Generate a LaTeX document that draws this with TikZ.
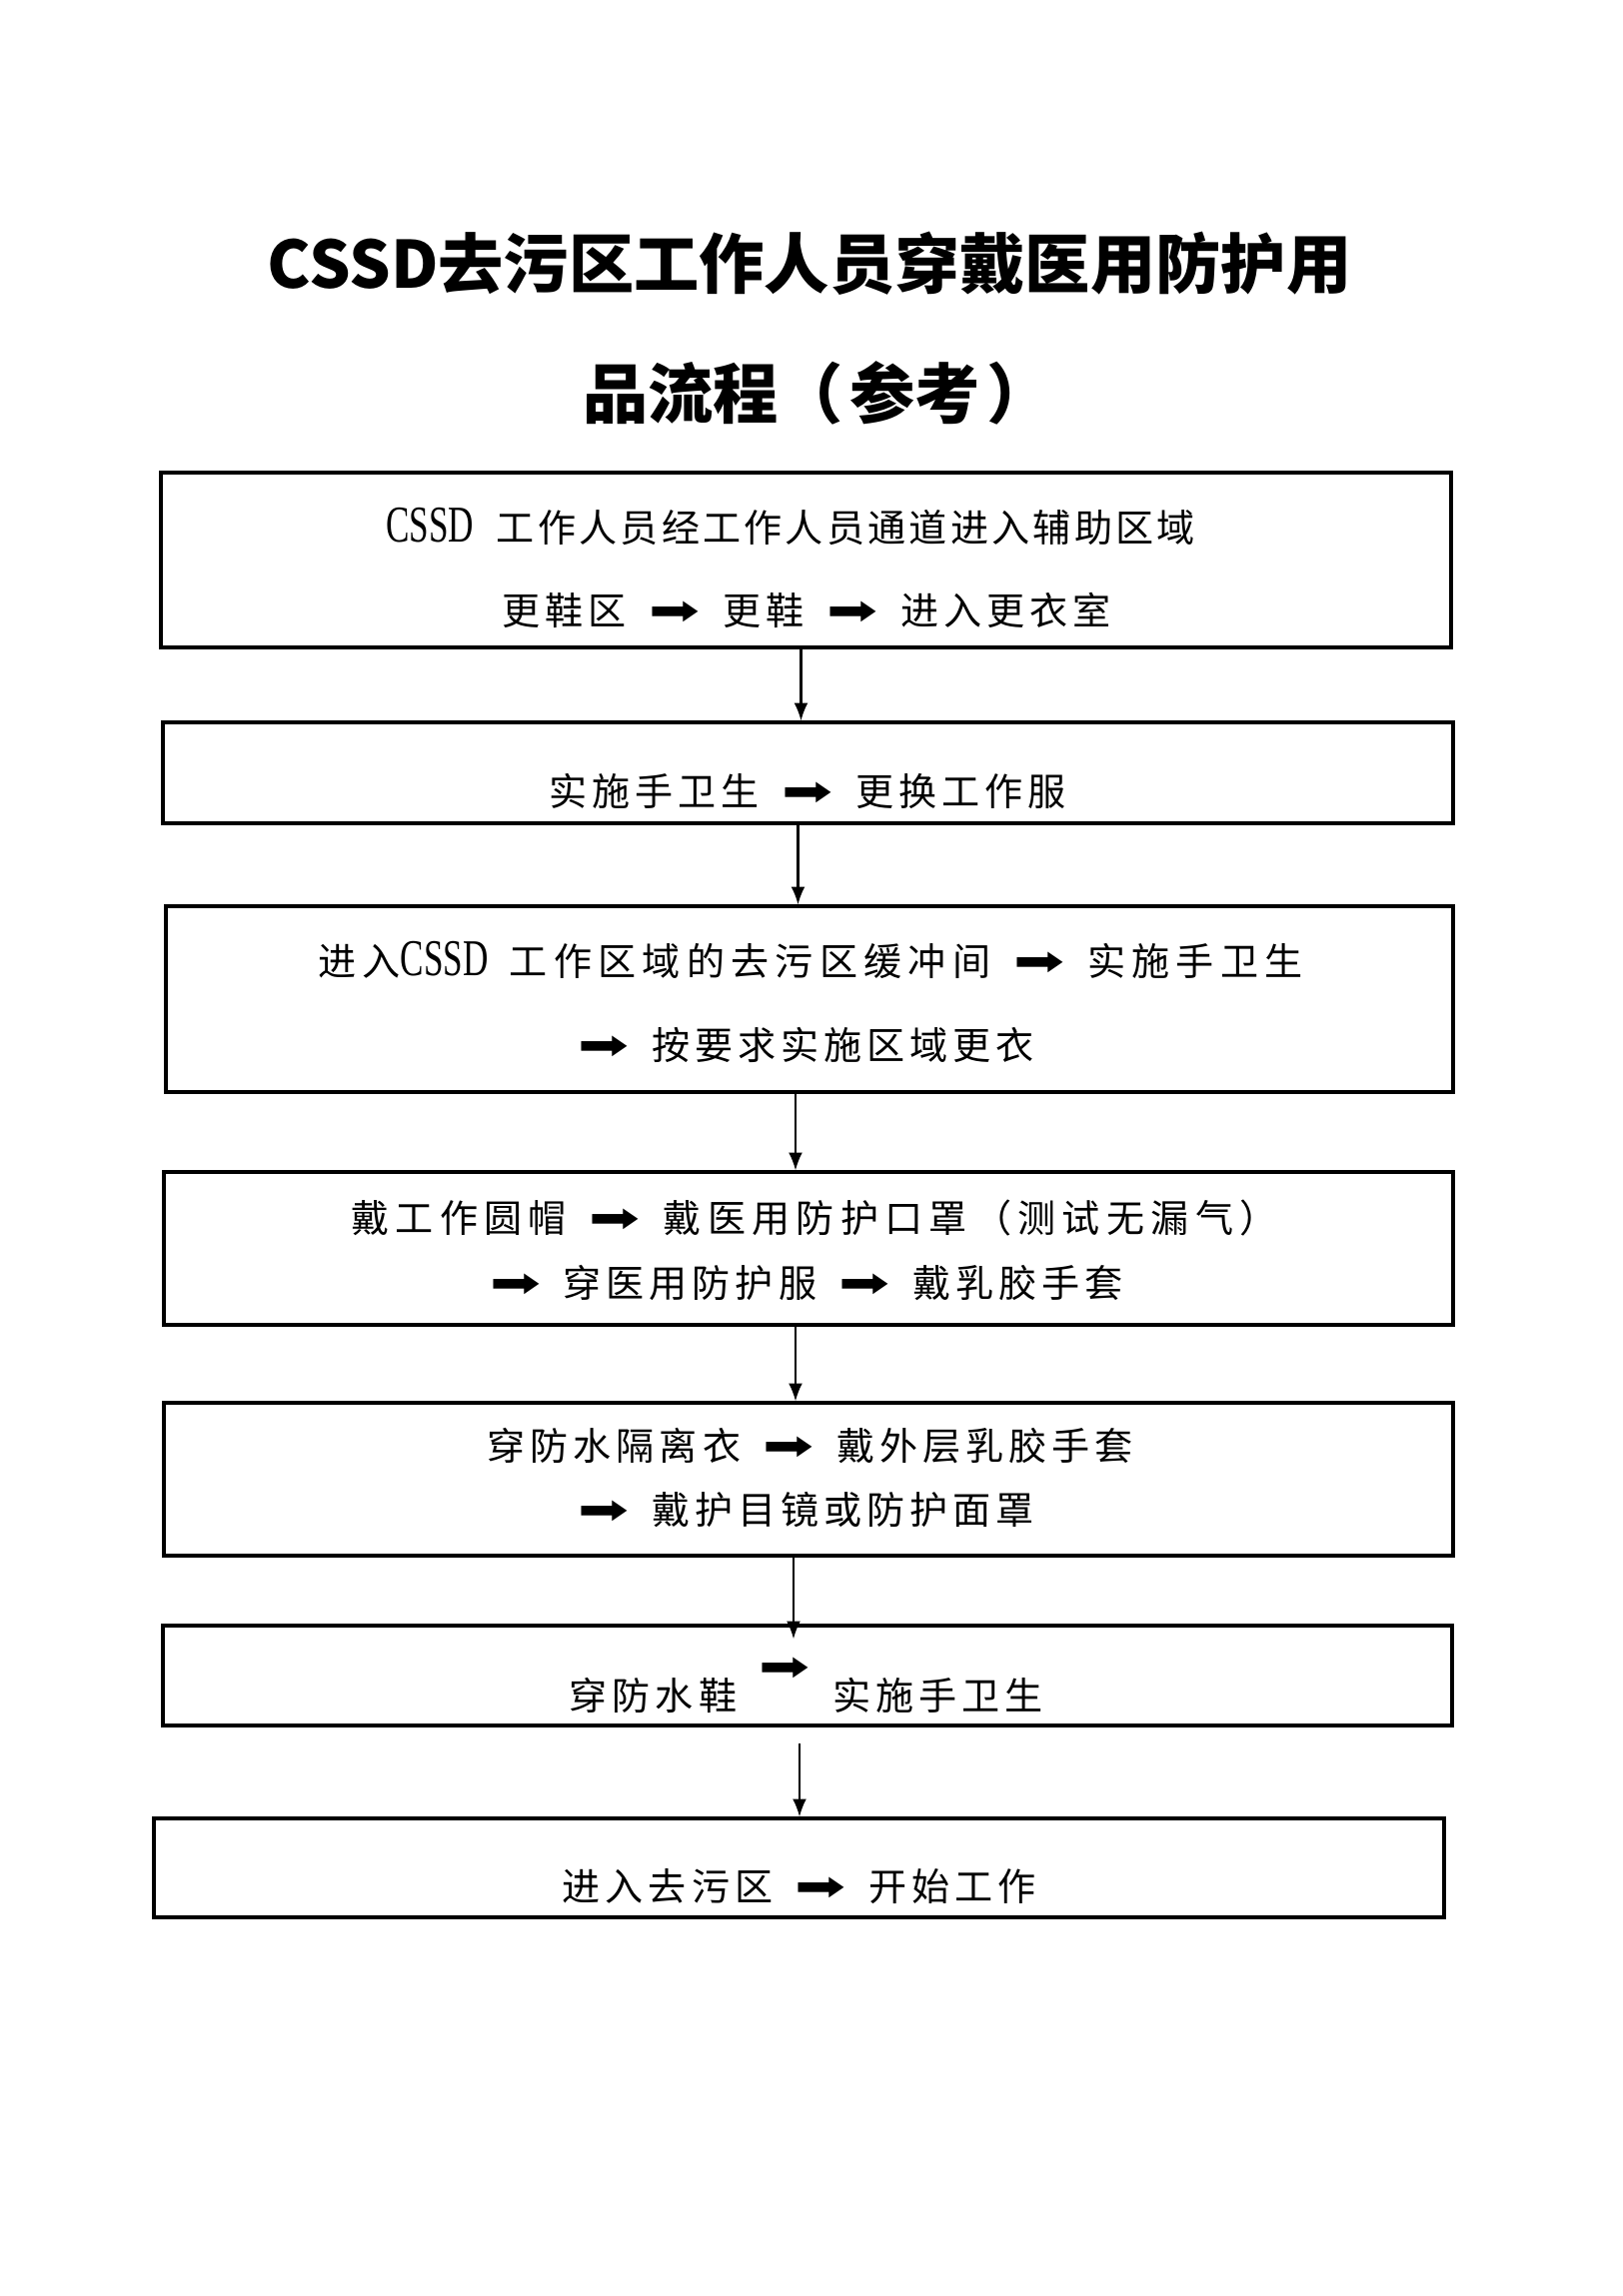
\documentclass[tikz,border=0pt]{standalone}
\usepackage{fontspec}
\usepackage{graphicx}
\usetikzlibrary{arrows.meta}

\setmainfont{Liberation Serif}
\newfontfamily\cjkfont[LetterSpace=13]{Noto Sans CJK SC}
\newfontfamily\cjktight[LetterSpace=8.5]{Noto Sans CJK SC}
\newfontfamily\cjkloose[LetterSpace=16.5]{Noto Sans CJK SC}
\newfontfamily\titlefont{Noto Sans CJK SC}
\newfontfamily\latinfont[FakeStretch=0.68]{Liberation Serif}
\newfontfamily\symfont{DejaVu Sans}

% one pixel of the page
\newcommand*{\pxu}{0.012931cm}
\newcommand*{\arr}{{\symfont\scalebox{1.6}[1.1]{➡}}}
\newcommand*{\gap}{\hspace{0.6em}}
\newcommand*{\cssd}{{\latinfont\fontsize{19pt}{19pt}\selectfont CSSD}}

\begin{document}
\begin{tikzpicture}
[
	x=\pxu,
	y=-\pxu,
	box/.style={draw,line width=1.2pt,inner sep=0pt},
	txt/.style={font=\fontsize{14pt}{16pt}\selectfont\cjkfont,inner sep=0pt},
	headline/.style={font=\fontsize{24pt}{28pt}\selectfont\titlefont\bfseries,inner sep=0pt},
	flow/.style={-{Latex[length=2.3mm,width=1.8mm]},line width=0.75pt}
]

	\useasboundingbox (0,0) rectangle (1624,2298);

	% title
	\node[headline] (ti1) at (810,264) {CSSD去污区工作人员穿戴医用防护用};
	\node[headline] (ti2) at (818,393) {品流程（\hspace{0.1em}参考\hspace{0.1em}）};

	% boxes
	\node[box,minimum width=1291*\pxu,minimum height=175*\pxu] (b1) at (806.5,560.5) {};
	\node[box,minimum width=1291*\pxu,minimum height=101*\pxu] (b2) at (808.5,773.5) {};
	\node[box,minimum width=1288*\pxu,minimum height=186*\pxu] (b3) at (810,1000) {};
	\node[box,minimum width=1290*\pxu,minimum height=153*\pxu] (b4) at (809,1249.5) {};
	\node[box,minimum width=1290*\pxu,minimum height=153*\pxu] (b5) at (809,1480.5) {};
	\node[box,minimum width=1290*\pxu,minimum height=100*\pxu] (b6) at (808,1677) {};
	\node[box,minimum width=1291*\pxu,minimum height=99*\pxu] (b7) at (799.5,1869.5) {};

	% texts
	\node[txt] (t1a) at (791,527) {\cssd\hspace{0.6em}\cjktight 工作人员经工作人员通道进入辅助区域};
	\node[txt] (t1b) at (807,611) {更鞋区\gap\arr\gap 更鞋\gap\arr\gap 进入更衣室};
	\node[txt] (t2) at (808,792) {实施手卫生\gap\arr\gap 更换工作服};
	\node[txt] (t3a) at (811,961) {\cjkloose 进入\cssd\hspace{0.55em}工作区域的去污区缓冲间\gap\arr\gap 实施手卫生};
	\node[txt] (t3b) at (807,1046) {\arr\gap 按要求实施区域更衣};
	\node[txt] (t4a) at (815,1219) {\cjkloose 戴工作圆帽\gap\arr\gap 戴医用防护口罩（测试无漏气）};
	\node[txt] (t4b) at (807,1284) {\arr\gap 穿医用防护服\gap\arr\gap 戴乳胶手套};
	\node[txt] (t5a) at (811,1447) {穿防水隔离衣\gap\arr\gap 戴外层乳胶手套};
	\node[txt] (t5b) at (807,1511) {\arr\gap 戴护目镜或防护面罩};
	\node[txt] (t6) at (807,1697) {穿防水鞋\gap\raisebox{0.38cm}[0pt][0pt]{\arr}\gap 实施手卫生};
	\node[txt] (t7) at (800,1888) {进入去污区\gap\arr\gap 开始工作};

	% arrows
	\draw[flow] ([xshift=-5*\pxu]b1.south) -- ([xshift=-5*\pxu]b1.south |- b2.north);
	\draw[flow] ([xshift=-10*\pxu]b2.south) -- ([xshift=-10*\pxu]b2.south |- b3.north);
	\draw[flow] ([xshift=-14*\pxu]b3.south) -- ([xshift=-14*\pxu]b3.south |- b4.north);
	\draw[flow] ([xshift=-13*\pxu]b4.south) -- ([xshift=-13*\pxu]b4.south |- b5.north);
	\draw[flow] ([xshift=-15*\pxu]b5.south) -- ([xshift=-15*\pxu,yshift=-15*\pxu]b5.south |- b6.north);
	\draw[flow] ([xshift=-8*\pxu,yshift=-16*\pxu]b6.south) -- ([xshift=-8*\pxu]b6.south |- b7.north);

\end{tikzpicture}
\end{document}
